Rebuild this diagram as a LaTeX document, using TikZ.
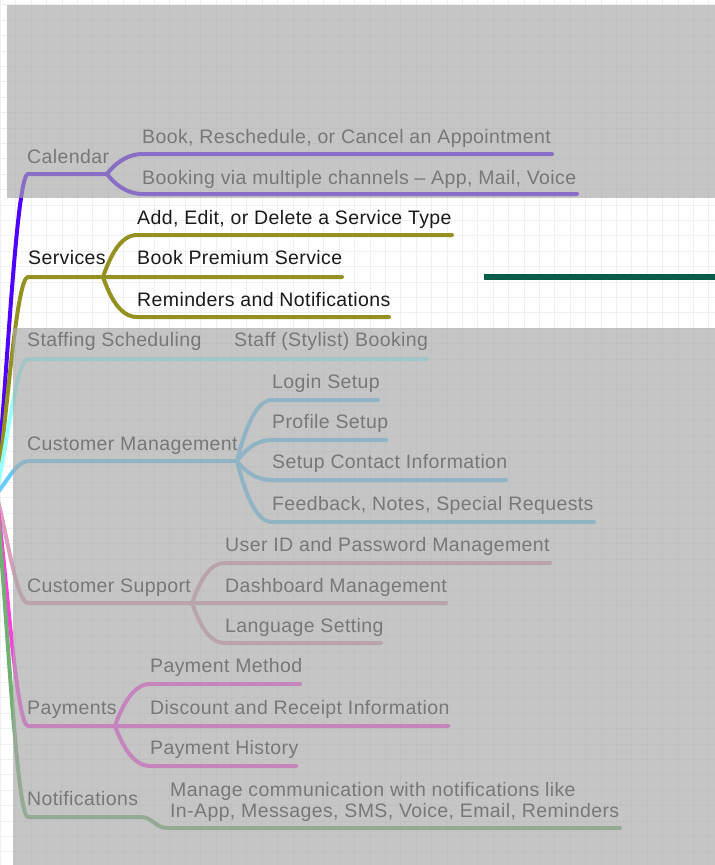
\documentclass[tikz,border=0pt]{standalone}
\usepackage{fontspec}
\setmainfont{Liberation Sans}[LetterSpace=2]
\definecolor{cPurp}{HTML}{5000FF}
\definecolor{cOlive}{HTML}{939120}
\definecolor{cCyan}{HTML}{99FFFF}
\definecolor{cBlue}{HTML}{66CCFF}
\definecolor{cMauve}{HTML}{DA9FBC}
\definecolor{cPink}{HTML}{FF40E0}
\definecolor{cGreen}{HTML}{70B070}
\definecolor{cDark}{HTML}{065E4A}
\definecolor{cGrid}{HTML}{F0F0F0}
\definecolor{cVeil}{HTML}{A8A8A8}
\definecolor{cText}{HTML}{1A1A1A}
\begin{document}
\begin{tikzpicture}[x=1pt,y=-1pt,
  br/.style={line width=4pt,line cap=round,line join=round},
  lbl/.style={anchor=base west,inner sep=0pt,text=cText,font=\fontsize{19.5}{21}\selectfont},
  veil/.style={fill=cVeil,fill opacity=0.66}]
\useasboundingbox (0,0) rectangle (715,865);
\fill[white] (0,0) rectangle (715,865);
% grid
\foreach \i in {0,...,46} \draw[cGrid,line width=1pt] ({0.4+15.4*\i},0) -- ++(0,865);
\foreach \j in {0,...,56} \draw[cGrid,line width=1pt] (0,{4.8+15.4*\j}) -- ++(715,0);

\coordinate (root) at (-4,494);

% ---------- Calendar
\node[lbl] (cal) at (27,163) {Calendar};
\coordinate (calL) at (28,174);
\coordinate (calF) at (107,174);
\coordinate (c1s) at (143,154); \coordinate (c1e) at (552,154);
\coordinate (c2s) at (143,194); \coordinate (c2e) at (577,194);
\node[lbl] (c1) at (142,143) {Book, Reschedule, or Cancel an Appointment};
\node[lbl] (c2) at (142,184) {Booking via multiple channels – App, Mail, Voice};
\draw[br,cPurp] (root) .. controls (6,398) and (16,174) .. (calL) -- (calF);
\draw[br,cPurp] (calF) .. controls +(6,-8) and +(-18,0) .. (c1s) -- (c1e);
\draw[br,cPurp] (calF) .. controls +(6,8) and +(-18,0) .. (c2s) -- (c2e);

% ---------- Services
\node[lbl] (srv) at (28,264) {Services};
\coordinate (srvL) at (28,277);
\coordinate (srvF) at (103,277);
\coordinate (s1s) at (137,235); \coordinate (s1e) at (452,235);
\coordinate (s2e) at (342,277);
\coordinate (s3s) at (137,317); \coordinate (s3e) at (389,317);
\node[lbl] (s1) at (137,224) {Add, Edit, or Delete a Service Type};
\node[lbl] (s2) at (137,264) {Book Premium Service};
\node[lbl] (s3) at (137,306) {Reminders and Notifications};
\draw[br,cOlive] (root) .. controls (6,429) and (16,277) .. (srvL) -- (srvF) -- (s2e);
\draw[br,cOlive] (srvF) .. controls +(6,-17) and +(-18,0) .. (s1s) -- (s1e);
\draw[br,cOlive] (srvF) .. controls +(6,17) and +(-18,0) .. (s3s) -- (s3e);

% ---------- Staffing Scheduling
\node[lbl] (stf) at (27,346) {Staffing Scheduling};
\node[lbl] (st1) at (234,346) {Staff (Stylist) Booking};
\coordinate (stfL) at (28,359);
\coordinate (st1e) at (427,359);
\draw[br,cCyan] (root) .. controls (6,453) and (16,359) .. (stfL) -- (st1e);

% ---------- Customer Management
\node[lbl] (cm) at (27,450) {Customer Management};
\coordinate (cmL) at (28,461);
\coordinate (cmF) at (237,461);
\coordinate (m1s) at (272,400); \coordinate (m1e) at (378,400);
\coordinate (m2s) at (272,440); \coordinate (m2e) at (386,440);
\coordinate (m3s) at (272,480); \coordinate (m3e) at (506,480);
\coordinate (m4s) at (272,522); \coordinate (m4e) at (594,522);
\node[lbl] (m1) at (272,388) {Login Setup};
\node[lbl] (m2) at (272,428) {Profile Setup};
\node[lbl] (m3) at (272,468) {Setup Contact Information};
\node[lbl] (m4) at (272,510) {Feedback, Notes, Special Requests};
\draw[br,cBlue] (root) .. controls (6,484) and (16,461) .. (cmL) -- (cmF);
\draw[br,cBlue] (cmF) .. controls +(6,-24) and +(-18,0) .. (m1s) -- (m1e);
\draw[br,cBlue] (cmF) .. controls +(6,-8) and +(-18,0) .. (m2s) -- (m2e);
\draw[br,cBlue] (cmF) .. controls +(6,8) and +(-18,0) .. (m3s) -- (m3e);
\draw[br,cBlue] (cmF) .. controls +(6,24) and +(-18,0) .. (m4s) -- (m4e);

% ---------- Customer Support
\node[lbl] (cs) at (27,592) {Customer Support};
\coordinate (csL) at (28,603);
\coordinate (csF) at (192,603);
\coordinate (u1s) at (225,563); \coordinate (u1e) at (550,563);
\coordinate (u2e) at (446,603);
\coordinate (u3s) at (225,643); \coordinate (u3e) at (381,643);
\node[lbl] (u1) at (225,551) {User ID and Password Management};
\node[lbl] (u2) at (225,592) {Dashboard Management};
\node[lbl] (u3) at (225,632) {Language Setting};
\draw[br,cMauve] (root) .. controls (6,527) and (16,603) .. (csL) -- (csF) -- (u2e);
\draw[br,cMauve] (csF) .. controls +(6,-16) and +(-18,0) .. (u1s) -- (u1e);
\draw[br,cMauve] (csF) .. controls +(6,16) and +(-18,0) .. (u3s) -- (u3e);

% ---------- Payments
\node[lbl] (pay) at (27,714) {Payments};
\coordinate (payL) at (28,726);
\coordinate (payF) at (115,726);
\coordinate (p1s) at (150,684); \coordinate (p1e) at (300,684);
\coordinate (p2e) at (448,726);
\coordinate (p3s) at (150,766); \coordinate (p3e) at (296,766);
\node[lbl] (p1) at (150,672) {Payment Method};
\node[lbl] (p2) at (150,714) {Discount and Receipt Information};
\node[lbl] (p3) at (150,754) {Payment History};
\draw[br,cPink] (root) .. controls (6,564) and (16,726) .. (payL) -- (payF) -- (p2e);
\draw[br,cPink] (payF) .. controls +(6,-17) and +(-18,0) .. (p1s) -- (p1e);
\draw[br,cPink] (payF) .. controls +(6,16) and +(-18,0) .. (p3s) -- (p3e);

% ---------- Notifications
\node[lbl] (ntf) at (27,805) {Notifications};
\node[lbl,anchor=north west,align=left] (n1) at (170,782.5)
  {Manage communication with notifications like\\In-App, Messages, SMS, Voice, Email, Reminders};
\coordinate (ntfL) at (28,817);
\coordinate (ntfB) at (140,817);
\coordinate (n1s) at (168,828); \coordinate (n1e) at (620,828);
\draw[br,cGreen] (root) .. controls (6,591) and (16,817) .. (ntfL) -- (ntfB)
  .. controls +(14,0) and +(-14,0) .. (n1s) -- (n1e);

% ---------- veils
\fill[veil] (7,5) rectangle (715,197.5);
\fill[veil] (13,328) rectangle (715,865);

% ---------- dark line
\coordinate (dkA) at (484,277);
\coordinate (dkB) at (715,277);
\draw[cDark,line width=5.5pt] (dkA) -- (dkB);
\end{tikzpicture}
\end{document}
